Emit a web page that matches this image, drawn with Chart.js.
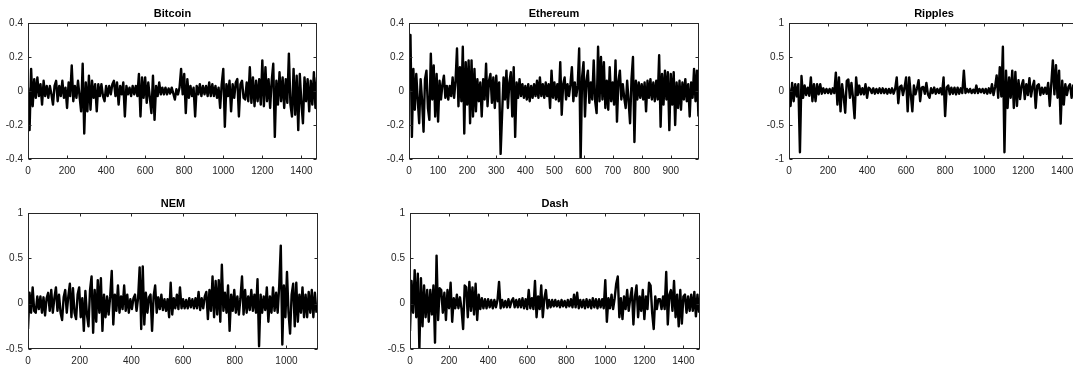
<!DOCTYPE html>
<html><head><meta charset="utf-8">
<script src="https://cdn.jsdelivr.net/npm/chart.js@4.4.1/dist/chart.umd.min.js"></script>
<style>
html,body{margin:0;padding:0;overflow:hidden;background:#fff;width:1073px;height:369px;}
#wrap{position:relative;width:1073px;height:369px;overflow:hidden;}
canvas.c{position:absolute;}
</style></head><body>
<div id="wrap">
<canvas id="c0" class="c"></canvas>
<canvas id="c1" class="c"></canvas>
<canvas id="c2" class="c"></canvas>
<canvas id="c3" class="c"></canvas>
<canvas id="c4" class="c"></canvas>
</div>
<script>
// ---------- data (daily returns, sampled every "step" days) ----------
const titles = ['Bitcoin', 'Ethereum', 'Ripples', 'NEM', 'Dash'];

const bitcoinStep = 8;
const bitcoin = [
 0.02,-0.23,0.13,-0.09,0.07,-0.04,0.08,-0.03,0.04,-0.08,
 0.06,-0.03,0.03,-0.04,0.03,-0.02,-0.08,0.03,0.06,-0.06,
 0.03,-0.03,0.06,-0.04,0.02,-0.1,0.05,-0.03,0.15,-0.06,
 0.03,-0.04,0.06,-0.03,-0.12,0.16,-0.25,0.05,-0.12,0.09,
 -0.11,0.06,-0.04,0.04,-0.12,0.04,-0.03,0.04,-0.03,-0.06,
 0.03,-0.03,0.03,-0.02,0.04,0.06,-0.03,0.05,-0.08,0.03,
 -0.02,0.05,-0.15,0.03,-0.02,0.02,-0.03,0.03,-0.02,0.03,
 -0.03,0.1,-0.15,0.08,-0.04,0.08,-0.07,0.05,-0.04,-0.13,
 0.09,-0.17,0.03,-0.03,0.05,-0.02,0.02,-0.02,0.02,-0.02,
 0.015,-0.015,0.02,-0.015,-0.05,0.01,-0.02,0.02,0.13,-0.02,
 0.1,-0.13,0.07,-0.04,0.03,-0.03,0.02,-0.15,0.03,-0.02,
 0.04,-0.03,0.03,-0.02,0.03,-0.03,0.05,-0.03,0.04,-0.03,
 0.03,-0.04,0.02,-0.1,0.04,0.13,-0.21,0.04,-0.03,0.06,
 -0.12,0.04,-0.04,0.05,0.07,-0.15,0.04,0.06,-0.04,-0.05,
 0.05,-0.06,0.14,-0.07,0.08,-0.09,0.06,-0.06,0.07,-0.08,
 0.18,-0.09,0.14,-0.06,0.07,-0.1,0.06,0.16,-0.27,0.06,
 -0.08,0.11,-0.06,0.08,-0.1,0.07,-0.07,0.22,-0.08,-0.15,
 0.13,-0.14,0.09,-0.23,0.1,-0.07,-0.19,0.08,-0.06,0.07,
 -0.12,0.06,-0.08,0.11,-0.1,0.08
];

const ethereumStep = 5;
const ethereum = [
 0.02,0.33,-0.27,0.13,-0.11,0.1,-0.05,-0.19,0.07,-0.06,
 -0.24,0.07,0.12,-0.1,-0.17,0.22,-0.05,0.15,-0.15,0.1,
 -0.18,0.06,-0.05,0.04,0.09,-0.04,0.03,-0.05,0.03,-0.03,
 0.08,-0.04,0.06,0.25,-0.09,0.14,-0.06,0.26,-0.25,0.17,
 -0.08,0.18,-0.19,0.18,-0.15,0.13,-0.12,0.07,-0.06,0.05,
 -0.15,0.07,-0.05,0.16,-0.09,0.06,0.1,-0.07,0.08,-0.1,
 0.09,-0.06,0.05,-0.37,-0.14,0.08,-0.05,0.12,-0.1,0.05,
 0.11,-0.15,0.14,-0.27,0.05,-0.04,0.07,-0.03,0.04,-0.04,
 0.03,-0.05,0.04,-0.06,0.03,-0.04,0.04,-0.03,0.06,-0.04,
 0.08,-0.03,0.04,-0.04,0.05,-0.03,0.04,-0.1,0.12,-0.04,
 0.05,-0.05,0.04,-0.06,0.17,-0.14,0.04,0.08,-0.05,0.04,
 -0.03,0.04,0.14,-0.06,0.05,-0.03,0.03,0.25,-0.42,0.08,
 0.17,-0.15,0.06,0.12,-0.07,0.05,-0.05,0.18,-0.06,-0.13,
 0.26,-0.06,0.2,-0.05,0.17,-0.1,0.06,-0.11,0.14,-0.06,
 0.05,-0.08,0.18,-0.18,0.06,0.12,-0.05,0.04,-0.04,-0.1,
 0.06,-0.06,-0.19,0.07,0.2,-0.3,0.06,-0.05,0.05,-0.04,
 0.04,-0.05,0.05,-0.12,0.06,-0.04,0.07,-0.05,0.05,-0.06,
 0.06,-0.05,0.21,-0.21,0.1,-0.08,0.12,-0.05,0.11,-0.23,
 0.1,-0.08,0.11,-0.2,0.05,-0.1,0.06,-0.11,0.05,-0.05,
 0.07,-0.06,0.04,-0.15,0.05,-0.04,0.13,-0.06,0.12,-0.15
];

const ripplesStep = 8;
const ripples = [
 0.05,-0.22,0.12,-0.15,0.1,-0.08,0.1,-0.9,0.22,-0.1,
 0.08,-0.06,0.05,-0.07,0.2,-0.15,0.1,-0.15,0.1,-0.05,
 0.1,-0.04,0.04,-0.03,0.03,-0.03,0.03,-0.04,0.04,-0.03,
 0.27,-0.2,0.2,-0.3,0.1,-0.08,-0.32,0.15,0.17,-0.1,
 0.12,-0.1,-0.4,0.2,-0.06,0.08,-0.05,0.04,-0.05,0.1,
 -0.1,0.05,0.03,-0.03,0.04,-0.04,0.03,-0.03,0.04,-0.03,
 0.04,-0.03,0.03,-0.04,0.03,-0.03,0.04,-0.04,0.03,0.2,
 -0.18,0.06,0.08,-0.06,0.05,0.2,-0.3,0.2,-0.05,-0.3,
 0.08,-0.05,0.04,0.16,-0.15,0.05,0.06,-0.04,0.12,-0.05,
 -0.1,0.04,-0.03,0.05,-0.04,0.03,-0.03,0.04,-0.05,0.2,
 -0.37,0.05,0.08,-0.05,0.05,-0.04,0.05,-0.05,0.05,-0.04,
 0.04,-0.03,0.3,-0.03,0.03,-0.02,0.03,-0.03,0.02,-0.03,
 0.08,-0.03,0.03,-0.02,0.03,-0.03,0.03,-0.04,0.04,-0.03,
 0.1,-0.06,0.06,0.23,-0.1,0.35,-0.08,0.65,-0.9,0.3,
 -0.25,0.2,-0.1,0.3,-0.25,0.28,-0.22,0.16,-0.12,0.08,
 0.16,-0.12,0.1,-0.06,0.19,-0.08,0.06,0.15,-0.25,0.08,
 0.1,-0.06,0.05,-0.04,0.05,-0.04,0.12,-0.22,0.1,0.45,
 -0.05,0.38,-0.1,0.3,-0.48,0.15,-0.2,0.1,-0.06,0.06,
 0.1,-0.1,0.08,-0.08,0.06,-0.06
];

const nemStep = 6;
const nem = [
 -0.28,0.12,-0.1,0.18,-0.08,-0.1,0.08,-0.06,0.08,-0.1,
 0.07,-0.13,0.06,0.12,-0.08,0.15,-0.1,0.06,0.18,-0.08,
 0.1,-0.1,-0.18,0.07,0.15,-0.1,0.08,0.22,-0.15,0.17,
 -0.1,-0.17,0.1,0.18,-0.15,0.06,-0.3,0.14,-0.12,-0.25,
 0.15,0.3,-0.32,0.15,-0.2,0.26,-0.1,0.28,-0.3,0.1,
 -0.15,0.08,-0.12,0.08,0.36,-0.23,0.1,-0.08,0.2,-0.1,
 0.08,-0.06,0.2,-0.08,0.1,-0.1,0.05,-0.06,0.06,0.1,
 -0.08,0.06,0.4,-0.28,0.41,-0.23,0.12,-0.1,0.07,0.1,
 -0.3,0.08,0.2,-0.1,0.07,-0.06,0.1,-0.07,0.05,-0.08,
 0.05,-0.15,0.23,-0.12,0.06,-0.05,0.1,-0.06,0.18,-0.05,
 0.05,-0.05,0.04,-0.05,0.06,-0.04,0.05,-0.05,0.06,-0.05,
 0.13,-0.07,0.06,-0.05,0.08,0.13,-0.17,0.15,-0.08,0.3,
 -0.15,0.25,-0.12,0.26,-0.2,0.43,-0.08,0.12,-0.1,0.2,
 -0.3,0.1,-0.08,0.15,-0.1,0.08,-0.12,0.06,0.3,-0.12,
 0.15,-0.1,0.08,-0.07,0.15,-0.08,0.1,-0.1,0.27,-0.47,
 0.1,-0.1,0.08,-0.07,0.18,-0.2,0.08,-0.1,0.18,-0.08,
 0.12,-0.1,0.2,0.64,-0.45,0.2,-0.15,0.35,-0.1,-0.33,
 0.1,0.22,-0.25,0.23,-0.2,0.1,-0.1,0.18,-0.15,0.1,
 -0.15,0.13,-0.1,0.15,-0.15,0.12,-0.1
];

const dashStep = 8;
const dash = [
 -0.3,0.25,-0.1,0.37,-0.15,0.33,-0.5,0.28,-0.25,0.2,
 -0.15,0.15,-0.2,0.15,-0.12,0.2,-0.43,0.53,-0.18,0.17,
 0.15,-0.1,0.12,-0.18,0.15,-0.05,0.23,-0.2,0.06,-0.05,
 0.1,-0.05,0.07,-0.06,-0.28,0.2,0.18,-0.15,0.24,-0.08,
 0.18,-0.12,0.22,-0.18,0.1,-0.06,0.06,-0.05,0.05,-0.05,
 0.05,-0.04,0.04,-0.05,0.04,-0.04,0.04,0.24,-0.05,0.04,
 -0.04,0.03,-0.04,0.05,-0.04,0.03,0.06,-0.04,0.04,-0.04,
 0.05,-0.04,0.06,-0.05,0.05,-0.06,0.15,-0.05,0.06,-0.06,
 0.25,-0.15,0.08,-0.06,0.2,-0.15,0.06,0.15,-0.05,0.04,
 -0.04,0.04,-0.03,0.04,-0.03,0.03,-0.04,0.04,-0.03,0.03,
 -0.04,0.04,-0.03,0.05,-0.04,0.1,-0.04,0.12,-0.05,0.04,
 -0.04,0.04,-0.05,0.05,-0.04,0.04,-0.05,0.06,-0.04,0.05,
 -0.05,0.05,-0.04,0.05,-0.05,0.26,-0.2,0.06,-0.05,0.1,
 -0.06,0.06,0.22,0.3,-0.15,0.06,-0.17,0.08,-0.06,0.15,
 -0.08,0.06,0.17,-0.23,0.08,0.2,-0.15,0.08,-0.08,0.15,
 -0.17,0.08,-0.06,0.23,0.2,-0.1,-0.28,0.08,-0.06,0.05,
 0.05,-0.06,0.08,-0.06,0.35,-0.23,0.1,0.15,-0.08,0.25,
 -0.15,0.1,-0.25,0.15,-0.22,0.08,0.1,-0.1,0.08,-0.08,
 0.1,-0.08,0.13,-0.14,0.1,-0.1
];

// axis limits and tick labels
const xMaxes = [1480, 997, 1486, 1122, 1485];
const xTicks200 = [0, 200, 400, 600, 800, 1000, 1200, 1400];
const xTicks100 = [0, 100, 200, 300, 400, 500, 600, 700, 800, 900];
const xTicksNem = [0, 200, 400, 600, 800, 1000];
const yTicksSmall = [-0.4, -0.2, 0, 0.2, 0.4];
const yTicksRipples = [-1, -0.5, 0, 0.5, 1];
const yTicksWide = [-0.5, 0, 0.5, 1];

// ---------- layout ----------
const FONT = "'Liberation Sans', Arial, Helvetica, sans-serif";
const AX = '#262626';
const boxes = [ // chart-area left, top, width
  {l: 28, t: 23, w: 289},
  {l: 409, t: 23, w: 290},
  {l: 789, t: 23, w: 290},
  {l: 28, t: 213, w: 290},
  {l: 410, t: 213, w: 290}
];
const PL = 30, PT = 23, PR = 12, PB = 26, AH = 136;

const matlabBox = {
  id: 'matlabBox',
  afterDatasetsDraw(chart) {
    const {ctx, chartArea: a, scales} = chart;
    const x = scales.x, y = scales.y;
    const L = Math.round(a.left) + 0.5, R = Math.round(a.right) - 0.5;
    const T = Math.round(a.top) + 0.5, B = Math.round(a.bottom) - 0.5;
    ctx.save();
    ctx.strokeStyle = AX;
    ctx.lineWidth = 1;
    ctx.strokeRect(L, T, R - L, B - T);
    ctx.beginPath();
    x.ticks.forEach(tk => {
      const px = Math.round(x.getPixelForValue(tk.value)) + 0.5;
      ctx.moveTo(px, B); ctx.lineTo(px, B - 3);
      ctx.moveTo(px, T); ctx.lineTo(px, T + 3);
    });
    y.ticks.forEach(tk => {
      const py = Math.round(y.getPixelForValue(tk.value)) + 0.5;
      ctx.moveTo(L, py); ctx.lineTo(L + 3, py);
      ctx.moveTo(R, py); ctx.lineTo(R - 3, py);
    });
    ctx.stroke();
    ctx.restore();
  }
};

function makeChart(idx, values, step, xTicks, yTicks) {
  const b = boxes[idx];
  const cv = document.getElementById('c' + idx);
  cv.width = PL + b.w + PR;
  cv.height = PT + AH + PB;
  cv.style.left = (b.l - PL) + 'px';
  cv.style.top = (b.t - PT) + 'px';
  cv.style.width = cv.width + 'px';
  cv.style.height = cv.height + 'px';
  const pts = values.map((v, i) => ({x: i * step, y: v}));
  new Chart(cv, {
    type: 'line',
    data: {datasets: [{data: pts, borderColor: '#000', borderWidth: 2.4,
      pointRadius: 0, tension: 0, fill: false, borderJoinStyle: 'round'}]},
    options: {
      responsive: false, animation: false, devicePixelRatio: 1,
      layout: {padding: {top: 0, left: 0, right: PR, bottom: 0}},
      plugins: {
        legend: {display: false}, tooltip: {enabled: false},
        title: {display: true, text: titles[idx], fullSize: false, color: '#000',
          font: {family: FONT, size: 11, weight: 'bold'},
          padding: {top: 7.4, bottom: 2.4}}
      },
      scales: {
        x: {type: 'linear', min: 0, max: xMaxes[idx],
          grid: {display: false, drawTicks: false}, border: {display: false},
          afterBuildTicks: s => { s.ticks = xTicks.map(v => ({value: v})); },
          afterFit: s => { s.height = PB; },
          ticks: {color: AX, font: {family: FONT, size: 10}, padding: 6, maxRotation: 0,
            autoSkip: false, callback: v => String(v)}},
        y: {type: 'linear', min: yTicks[0], max: yTicks[yTicks.length - 1],
          grid: {display: false, drawTicks: false}, border: {display: false},
          afterBuildTicks: s => { s.ticks = yTicks.map(v => ({value: v})); },
          afterFit: s => { s.width = PL; },
          ticks: {color: AX, font: {family: FONT, size: 10}, padding: 5,
            autoSkip: false, callback: v => String(v)}}
      }
    },
    plugins: [matlabBox]
  });
}

makeChart(0, bitcoin, bitcoinStep, xTicks200, yTicksSmall);
makeChart(1, ethereum, ethereumStep, xTicks100, yTicksSmall);
makeChart(2, ripples, ripplesStep, xTicks200, yTicksRipples);
makeChart(3, nem, nemStep, xTicksNem, yTicksWide);
makeChart(4, dash, dashStep, xTicks200, yTicksWide);
</script>
</body></html>
